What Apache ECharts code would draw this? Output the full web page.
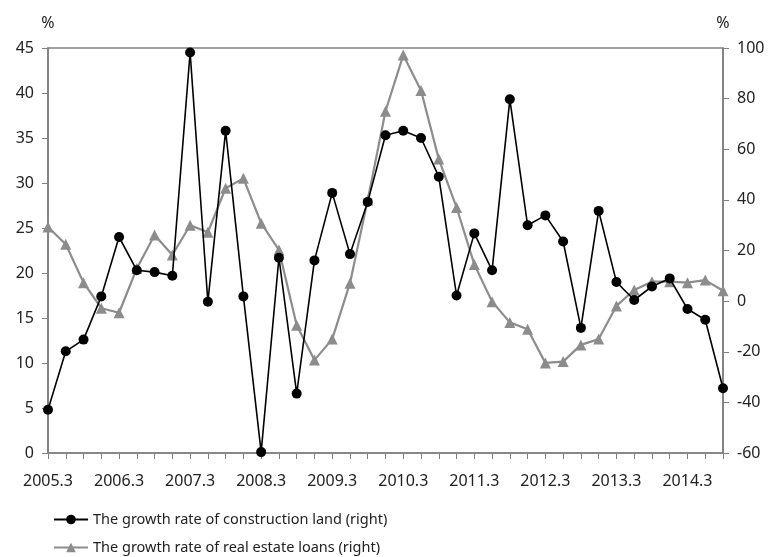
<!DOCTYPE html>
<html>
<head>
<meta charset="utf-8">
<script src="https://cdn.jsdelivr.net/npm/echarts@6/dist/echarts.min.js"></script>
<style>
html,body{margin:0;padding:0;background:#fff;}
#chart{width:771px;height:557px;}
</style>
</head>
<body>
<div id="chart"></div>
<script>
var quarters = ['2005.3','2005.6','2005.9','2005.12','2006.3','2006.6','2006.9','2006.12','2007.3','2007.6','2007.9','2007.12','2008.3','2008.6','2008.9','2008.12','2009.3','2009.6','2009.9','2009.12','2010.3','2010.6','2010.9','2010.12','2011.3','2011.6','2011.9','2011.12','2012.3','2012.6','2012.9','2012.12','2013.3','2013.6','2013.9','2013.12','2014.3','2014.6','2014.9'];
var constructionLand = [4.8,11.3,12.6,17.4,24.0,20.3,20.1,19.7,44.5,16.8,35.8,17.4,0.1,21.7,6.6,21.4,28.9,22.1,27.9,35.3,35.8,35.0,30.7,17.5,24.4,20.3,39.3,25.3,26.4,23.5,13.9,26.9,19.0,17.0,18.5,19.4,16.0,14.8,7.2];
var realEstateLoans = [29.3,22.5,7.3,-2.8,-4.6,12.9,26.1,18.2,30.0,27.2,44.6,48.5,30.8,20.2,-9.5,-23.3,-15.0,7.1,40.0,75.0,97.2,83.2,56.1,37.0,14.5,-0.2,-8.4,-11.1,-24.4,-23.9,-17.3,-15.0,-1.9,4.4,7.7,7.7,7.3,8.3,4.1];
var leftTicks = {min:0, max:45, interval:5};
var rightTicks = {min:-60, max:100, interval:20};
var seriesNames = ['The growth rate of construction land (right)','The growth rate of real estate loans (right)'];

var font = 'Noto Sans';
var txt = '#222';
function legendAt(name, top){
  return {
    orient:'horizontal', left:53, top:top, padding:0, itemWidth:34, itemHeight:12,
    textStyle:{fontFamily:font,fontSize:14.5,color:txt},
    data:[name]
  };
}
var chart = echarts.init(document.getElementById('chart'));
chart.setOption({
  animation:false,
  backgroundColor:'#fff',
  textStyle:{fontFamily:font},
  grid:{left:48,right:48,top:48,bottom:104,show:true,borderColor:'#444',borderWidth:1.2,backgroundColor:'transparent'},
  legend:[legendAt(seriesNames[0],512), legendAt(seriesNames[1],540)],
  xAxis:{
    type:'category', data:quarters, boundaryGap:false,
    axisLine:{lineStyle:{color:'#808080',width:1.5}},
    axisTick:{show:true,interval:0,length:6,inside:false,lineStyle:{color:'#808080'}},
    axisLabel:{interval:3,margin:20,fontFamily:font,fontSize:16,color:txt},
    splitLine:{show:false}
  },
  yAxis:[{
    type:'value', min:leftTicks.min, max:leftTicks.max, interval:leftTicks.interval,
    name:'%', nameLocation:'end', nameGap:17, nameTextStyle:{fontFamily:font,fontSize:16,color:txt,align:'center'},
    axisLine:{show:true,lineStyle:{color:'#808080',width:1.5}},
    axisTick:{show:true,length:6,lineStyle:{color:'#808080'}},
    axisLabel:{margin:14,fontFamily:font,fontSize:16,color:txt},
    splitLine:{show:false}
  },{
    type:'value', min:rightTicks.min, max:rightTicks.max, interval:rightTicks.interval, position:'right',
    name:'%', nameLocation:'end', nameGap:17, nameTextStyle:{fontFamily:font,fontSize:16,color:txt,align:'center'},
    axisLine:{show:true,lineStyle:{color:'#808080',width:1.5}},
    axisTick:{show:true,length:6,lineStyle:{color:'#808080'}},
    axisLabel:{margin:14,fontFamily:font,fontSize:16,color:txt},
    splitLine:{show:false}
  }],
  series:[{
    name:seriesNames[1], type:'line', yAxisIndex:1, data:realEstateLoans,
    symbol:'triangle', symbolSize:11, showAllSymbol:true,
    lineStyle:{color:'#8c8c8c',width:2.2},
    itemStyle:{color:'#8c8c8c'}, z:2
  },{
    name:seriesNames[0], type:'line', yAxisIndex:0, data:constructionLand,
    symbol:'circle', symbolSize:10, showAllSymbol:true,
    lineStyle:{color:'#000',width:1.6},
    itemStyle:{color:'#000'}, z:3
  }]
});
</script>
</body>
</html>
